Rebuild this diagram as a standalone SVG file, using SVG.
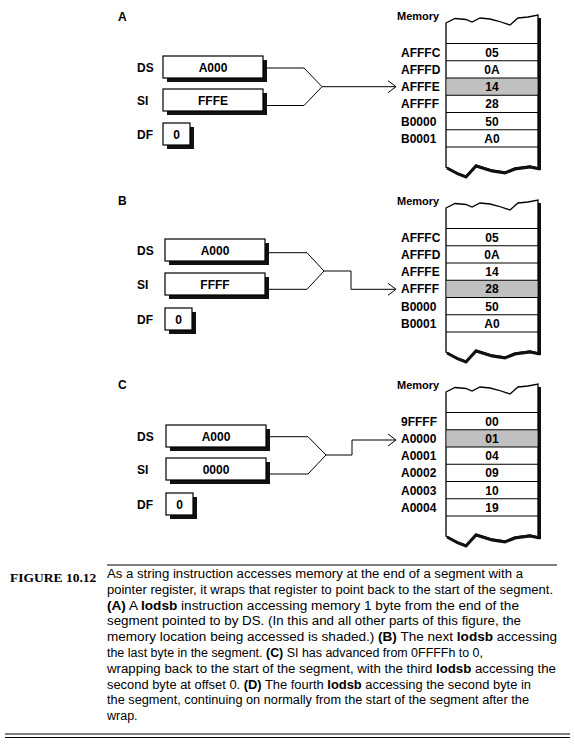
<svg xmlns="http://www.w3.org/2000/svg" width="575" height="755" viewBox="0 0 575 755">
<style>
.t{font-family:"Liberation Sans",Arial,sans-serif;font-weight:bold;font-size:12px;fill:#000}
.m{font-family:"Liberation Sans",Arial,sans-serif;font-weight:bold;font-size:11px;fill:#000}
.c{font-family:"Liberation Sans",Arial,sans-serif;font-size:12.5px;fill:#000}
.b{font-weight:bold}
.fig{font-family:"Liberation Serif","Times New Roman",serif;font-weight:bold;font-size:13.5px;fill:#000}
.box{fill:#fff;stroke:#000;stroke-width:1.2}
.sh{fill:#111}
.ln{fill:none;stroke:#000;stroke-width:1}
.row{stroke:#000;stroke-width:1}
.shade{fill:#c0c0c0}
.col{fill:#fff;stroke:#000;stroke-width:1.3}
.bot{fill:none;stroke:#111;stroke-width:3}
</style>
<defs>
<marker id="ah" markerUnits="userSpaceOnUse" markerWidth="12" markerHeight="14" refX="9" refY="7" orient="auto">
<path d="M1,1 L9,7 L1,13" fill="none" stroke="#000" stroke-width="1"/>
</marker>
<g id="regA">
</g>
<g id="memcol">
<rect x="538" y="18" width="3" height="152" class="sh"/>
<path d="M446,23 L455,18.5 L466,19.5 L472,22 L480,18 L490,19 L498,21 L510,25 L518,18 L528,17 L538,15 L538,168 L530,166 L515,168 L505,172 L492,170 L476,165 L466,176 L458,173 L446,167 Z" class="col"/>
<path d="M447,168 L458,174 L466,177 L476,166 L492,171 L505,173 L515,169 L530,167 L540,169" class="bot"/>
</g>
</defs>

<!-- Panel A -->
<g id="panelA">
<text x="118" y="21" class="t">A</text>
<g id="A-DS"><text x="137" y="71.5" class="t">DS</text><rect x="167" y="60" width="100" height="22" class="sh"/><rect x="163" y="56" width="100" height="22" class="box"/><text x="213" y="71.5" class="t" text-anchor="middle">A000</text></g>
<g id="A-SI"><text x="137" y="104.5" class="t">SI</text><rect x="167" y="93" width="100" height="22" class="sh"/><rect x="163" y="89" width="100" height="22" class="box"/><text x="213" y="104.5" class="t" text-anchor="middle">FFFE</text></g>
<g id="A-DF"><text x="137" y="138.5" class="t">DF</text><rect x="167" y="127" width="27" height="22" class="sh"/><rect x="163" y="123" width="27" height="22" class="box"/><text x="176.5" y="138.5" class="t" text-anchor="middle">0</text></g>
<g id="A-mem">
<text x="397" y="20" class="m">Memory</text>
<use href="#memcol"/>
<rect x="446.7" y="78" width="90.6" height="17.25" class="shade"/>
<path d="M446,43.5H538M446,60.75H538M446,78H538M446,95.25H538M446,112.5H538M446,129.75H538M446,147H538" class="row"/>
<text x="401" y="56.5" class="t">AFFFC</text><text x="492" y="56.5" class="t" text-anchor="middle">05</text>
<text x="401" y="73.7" class="t">AFFFD</text><text x="492" y="73.7" class="t" text-anchor="middle">0A</text>
<text x="401" y="91" class="t">AFFFE</text><text x="492" y="91" class="t" text-anchor="middle">14</text>
<text x="401" y="108.2" class="t">AFFFF</text><text x="492" y="108.2" class="t" text-anchor="middle">28</text>
<text x="401" y="125.5" class="t">B0000</text><text x="492" y="125.5" class="t" text-anchor="middle">50</text>
<text x="401" y="142.7" class="t">B0001</text><text x="492" y="142.7" class="t" text-anchor="middle">A0</text>
</g>
</g>

<!-- Panel B -->
<g id="panelB">
<text x="118" y="205" class="t">B</text>
<g id="B-DS"><text x="137" y="254.5" class="t">DS</text><rect x="169" y="243" width="100" height="22" class="sh"/><rect x="165" y="239" width="100" height="22" class="box"/><text x="215" y="254.5" class="t" text-anchor="middle">A000</text></g>
<g id="B-SI"><text x="137" y="288.5" class="t">SI</text><rect x="169" y="277" width="100" height="22" class="sh"/><rect x="165" y="273" width="100" height="22" class="box"/><text x="215" y="288.5" class="t" text-anchor="middle">FFFF</text></g>
<g id="B-DF"><text x="137" y="323.5" class="t">DF</text><rect x="169" y="312" width="27" height="22" class="sh"/><rect x="165" y="308" width="27" height="22" class="box"/><text x="178.5" y="323.5" class="t" text-anchor="middle">0</text></g>
<g id="B-mem">
<text x="397" y="205" class="m">Memory</text>
<use href="#memcol" y="185"/>
<rect x="446.7" y="280.25" width="90.6" height="17.25" class="shade"/>
<path d="M446,228.5H538M446,245.75H538M446,263H538M446,280.25H538M446,297.5H538M446,314.75H538M446,332H538" class="row"/>
<text x="401" y="241.5" class="t">AFFFC</text><text x="492" y="241.5" class="t" text-anchor="middle">05</text>
<text x="401" y="258.7" class="t">AFFFD</text><text x="492" y="258.7" class="t" text-anchor="middle">0A</text>
<text x="401" y="276" class="t">AFFFE</text><text x="492" y="276" class="t" text-anchor="middle">14</text>
<text x="401" y="293.2" class="t">AFFFF</text><text x="492" y="293.2" class="t" text-anchor="middle">28</text>
<text x="401" y="310.5" class="t">B0000</text><text x="492" y="310.5" class="t" text-anchor="middle">50</text>
<text x="401" y="327.7" class="t">B0001</text><text x="492" y="327.7" class="t" text-anchor="middle">A0</text>
</g>
</g>

<!-- Panel C -->
<g id="panelC">
<text x="118" y="389" class="t">C</text>
<g id="C-DS"><text x="137" y="440.5" class="t">DS</text><rect x="170" y="429" width="100" height="22" class="sh"/><rect x="166" y="425" width="100" height="22" class="box"/><text x="216" y="440.5" class="t" text-anchor="middle">A000</text></g>
<g id="C-SI"><text x="137" y="474" class="t">SI</text><rect x="170" y="462" width="100" height="22" class="sh"/><rect x="166" y="458" width="100" height="22" class="box"/><text x="216" y="474" class="t" text-anchor="middle">0000</text></g>
<g id="C-DF"><text x="137" y="509" class="t">DF</text><rect x="170" y="497" width="27" height="22" class="sh"/><rect x="166" y="493" width="27" height="22" class="box"/><text x="179.5" y="509" class="t" text-anchor="middle">0</text></g>
<g id="C-mem">
<text x="397" y="389" class="m">Memory</text>
<use href="#memcol" y="369"/>
<rect x="446.7" y="429.75" width="90.6" height="17.25" class="shade"/>
<path d="M446,412.5H538M446,429.75H538M446,447H538M446,464.25H538M446,481.5H538M446,498.75H538M446,516H538" class="row"/>
<text x="401" y="425.5" class="t">9FFFF</text><text x="492" y="425.5" class="t" text-anchor="middle">00</text>
<text x="401" y="442.7" class="t">A0000</text><text x="492" y="442.7" class="t" text-anchor="middle">01</text>
<text x="401" y="460" class="t">A0001</text><text x="492" y="460" class="t" text-anchor="middle">04</text>
<text x="401" y="477.2" class="t">A0002</text><text x="492" y="477.2" class="t" text-anchor="middle">09</text>
<text x="401" y="494.5" class="t">A0003</text><text x="492" y="494.5" class="t" text-anchor="middle">10</text>
<text x="401" y="511.7" class="t">A0004</text><text x="492" y="511.7" class="t" text-anchor="middle">19</text>
</g>
</g>

<!-- Connectors -->
<g id="connectors">
<path d="M267,68H304L322,86.7" class="ln"/>
<path d="M267,105.5H304L322,86.7H396" class="ln" marker-end="url(#ah)"/>
<path d="M267,252.7H307L324,271" class="ln"/>
<path d="M267,289.3H307L324,271H351V289.3H396" class="ln" marker-end="url(#ah)"/>
<path d="M267,436.7H308L326,455" class="ln"/>
<path d="M267,474H308L326,455H352V440H396" class="ln" marker-end="url(#ah)"/>
</g>

<!-- Caption -->
<g id="caption">
<line x1="107" y1="565" x2="557" y2="565" stroke="#000" stroke-width="1"/>
<text x="10" y="582" class="fig">FIGURE 10.12</text>
<text class="c" x="107" y="578" textLength="416" lengthAdjust="spacingAndGlyphs">As a string instruction accesses memory at the end of a segment with a</text>
<text class="c" x="107" y="593.8" textLength="446" lengthAdjust="spacingAndGlyphs">pointer register, it wraps that register to point back to the start of the segment.</text>
<text class="c" x="107" y="609.6" textLength="412" lengthAdjust="spacingAndGlyphs"><tspan class="b">(A)</tspan> A <tspan class="b">lodsb</tspan> instruction accessing memory 1 byte from the end of the</text>
<text class="c" x="107" y="625.4" textLength="414" lengthAdjust="spacingAndGlyphs">segment pointed to by DS. (In this and all other parts of this figure, the</text>
<text class="c" x="107" y="641.2" textLength="450" lengthAdjust="spacingAndGlyphs">memory location being accessed is shaded.) <tspan class="b">(B)</tspan> The next <tspan class="b">lodsb</tspan> accessing</text>
<text class="c" x="107" y="657" textLength="376" lengthAdjust="spacingAndGlyphs">the last byte in the segment. <tspan class="b">(C)</tspan> SI has advanced from 0FFFFh to 0,</text>
<text class="c" x="107" y="672.8" textLength="449" lengthAdjust="spacingAndGlyphs">wrapping back to the start of the segment, with the third <tspan class="b">lodsb</tspan> accessing the</text>
<text class="c" x="107" y="688.6" textLength="424" lengthAdjust="spacingAndGlyphs">second byte at offset 0. <tspan class="b">(D)</tspan> The fourth <tspan class="b">lodsb</tspan> accessing the second byte in</text>
<text class="c" x="107" y="704.4" textLength="422" lengthAdjust="spacingAndGlyphs">the segment, continuing on normally from the start of the segment after the</text>
<text class="c" x="107" y="720.2">wrap.</text>
<line x1="5" y1="734" x2="570" y2="734" stroke="#000" stroke-width="1"/>
<line x1="5" y1="737.5" x2="570" y2="737.5" stroke="#000" stroke-width="1"/>
</g>
</svg>
